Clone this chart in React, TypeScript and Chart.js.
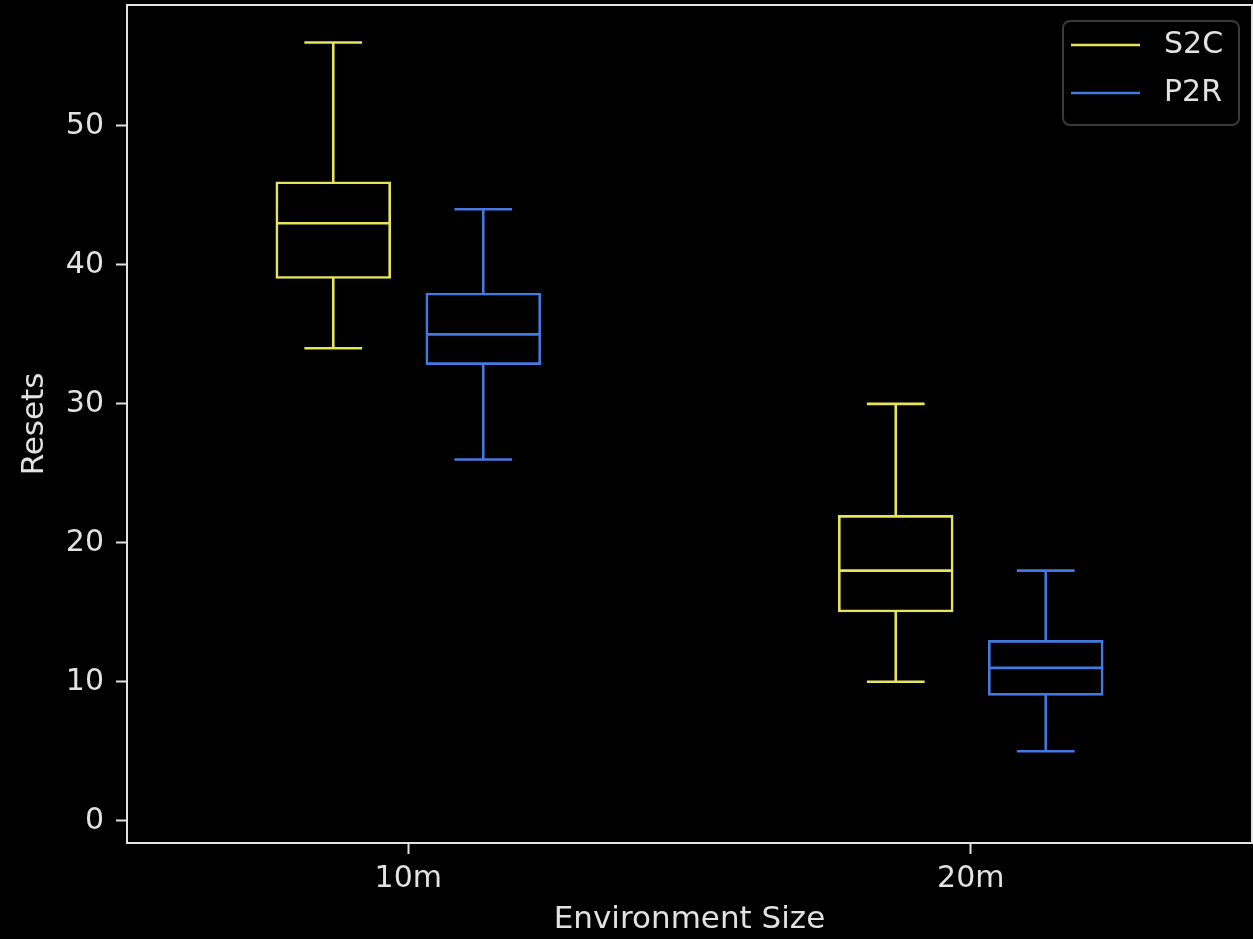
import React, { useEffect, useRef } from 'react';
import { Chart, registerables } from 'chart.js';

Chart.register(...registerables);

// ---- data ----
const CATEGORIES = ['10m', '20m'];
const SERIES_LABELS = ['S2C', 'P2R'];

const S2C_MIN = [34, 10];
const S2C_Q1 = [39, 15];
const S2C_MEDIAN = [43, 18];
const S2C_Q3 = [46, 22];
const S2C_MAX = [56, 30];

const P2R_MIN = [26, 5];
const P2R_Q1 = [32.8, 9];
const P2R_MEDIAN = [35, 11];
const P2R_Q3 = [38, 13];
const P2R_MAX = [44, 18];

const Y_TICKS = [0, 10, 20, 30, 40, 50];
const Y_MIN = -1.6;
const Y_MAX = 58.7;
const X_TITLE = 'Environment Size';
const Y_TITLE = 'Resets';

// ---- styles ----
const COLORS = ['#e6e35c', '#4479e1'];
const FG = '#e2e2e2';
const FONT_FAMILY = "'DejaVu Sans', sans-serif";
const FONT_SIZE = 30;
const TITLE_SIZE = 31;
const LINE_W = 2.6;

const SERIES = [
  { label: SERIES_LABELS[0], min: S2C_MIN, q1: S2C_Q1, med: S2C_MEDIAN, q3: S2C_Q3, max: S2C_MAX },
  { label: SERIES_LABELS[1], min: P2R_MIN, q1: P2R_Q1, med: P2R_MEDIAN, q3: P2R_Q3, max: P2R_MAX },
];

const boxPlugin = {
  id: 'boxWhiskers',
  afterDatasetsDraw(chart: any) {
    const ctx = chart.ctx;
    const y = chart.scales.y;
    SERIES.forEach((s, i) => {
      const meta = chart.getDatasetMeta(i);
      meta.data.forEach((bar: any, j: number) => {
        const { x, width } = bar.getProps(['x', 'width'], true);
        const half = width / 2 - LINE_W / 2;
        const cap = width / 4;
        const yMin = y.getPixelForValue(s.min[j]);
        const yMax = y.getPixelForValue(s.max[j]);
        const yQ1 = y.getPixelForValue(s.q1[j]);
        const yQ3 = y.getPixelForValue(s.q3[j]);
        const yMed = y.getPixelForValue(s.med[j]);
        ctx.save();
        ctx.strokeStyle = COLORS[i];
        ctx.lineWidth = LINE_W;
        ctx.lineCap = 'butt';
        ctx.beginPath();
        ctx.moveTo(x - half, yMed);
        ctx.lineTo(x + half, yMed);
        ctx.moveTo(x, yQ3 + LINE_W / 2);
        ctx.lineTo(x, yMax);
        ctx.moveTo(x, yQ1 - LINE_W / 2);
        ctx.lineTo(x, yMin);
        ctx.moveTo(x - cap, yMax);
        ctx.lineTo(x + cap, yMax);
        ctx.moveTo(x - cap, yMin);
        ctx.lineTo(x + cap, yMin);
        ctx.stroke();
        ctx.restore();
      });
    });
  },
};

const framePlugin = {
  id: 'frameAndLegend',
  afterDraw(chart: any) {
    const ctx = chart.ctx;
    const { left, top, right, bottom } = chart.chartArea;
    ctx.save();
    ctx.strokeStyle = FG;
    ctx.lineWidth = 2;
    ctx.beginPath();
    ctx.moveTo(left, top);
    ctx.lineTo(right, top);
    ctx.lineTo(right, bottom);
    ctx.stroke();

    // legend (matplotlib style, upper right)
    const bw = 176;
    const bh = 104;
    const bx = right - 13 - bw;
    const by = top + 16;
    ctx.beginPath();
    ctx.roundRect(bx, by, bw, bh, 7);
    ctx.fillStyle = 'rgba(0,0,0,0.8)';
    ctx.fill();
    ctx.strokeStyle = '#3a3a3a';
    ctx.lineWidth = 2;
    ctx.stroke();

    ctx.font = `${FONT_SIZE}px ${FONT_FAMILY}`;
    ctx.textBaseline = 'middle';
    ctx.textAlign = 'left';
    chart.data.datasets.forEach((ds: any, i: number) => {
      const ry = by + 24 + i * 48;
      ctx.strokeStyle = ds.borderColor;
      ctx.lineWidth = LINE_W;
      ctx.beginPath();
      ctx.moveTo(bx + 8, ry);
      ctx.lineTo(bx + 77, ry);
      ctx.stroke();
      ctx.fillStyle = FG;
      ctx.fillText(ds.label, bx + 101, ry);
    });
    ctx.restore();
  },
};

export default function App() {
  const ref = useRef<HTMLCanvasElement>(null);

  useEffect(() => {
    if (!ref.current) return;
    const font = { family: FONT_FAMILY, size: FONT_SIZE };
    const titleFont = { family: FONT_FAMILY, size: TITLE_SIZE };
    const chart = new Chart(ref.current, {
      type: 'bar',
      data: {
        labels: CATEGORIES,
        datasets: SERIES.map((s, i) => ({
          label: s.label,
          data: s.q1.map((v, j) => [v, s.q3[j]]),
          backgroundColor: 'rgba(0,0,0,0)',
          borderColor: COLORS[i],
          borderWidth: LINE_W,
          borderSkipped: false,
          categoryPercentage: 0.5333,
          barPercentage: 0.77,
        })),
      } as any,
      options: {
        responsive: false,
        animation: false,
        events: [],
        layout: { padding: { top: 5, right: 1, bottom: 0, left: 0 } },
        plugins: {
          legend: { display: false },
          tooltip: { enabled: false },
        },
        scales: {
          x: {
            type: 'category',
            offset: true,
            grid: {
              display: true,
              offset: false,
              drawOnChartArea: false,
              drawTicks: true,
              tickLength: 11,
              tickWidth: 2,
              tickColor: FG,
            },
            border: { display: true, color: FG, width: 2 },
            ticks: { color: FG, font, padding: 7, maxRotation: 0 },
            title: {
              display: true,
              text: X_TITLE,
              color: FG,
              font: titleFont,
              padding: { top: 0, bottom: 0 },
            },
            afterFit: (s: any) => {
              s.height = 96;
              s.paddingLeft = 0;
              s.paddingRight = 0;
            },
          },
          y: {
            type: 'linear',
            min: Y_MIN,
            max: Y_MAX,
            afterBuildTicks: (s: any) => {
              s.ticks = Y_TICKS.map((v) => ({ value: v }));
            },
            grid: {
              display: true,
              drawOnChartArea: false,
              drawTicks: true,
              tickLength: 11,
              tickWidth: 2,
              tickColor: FG,
            },
            border: { display: true, color: FG, width: 2 },
            ticks: { color: FG, font, padding: 12 },
            title: {
              display: true,
              text: Y_TITLE,
              color: FG,
              font: titleFont,
              padding: { top: 16, bottom: 0 },
            },
            afterFit: (s: any) => {
              s.width = 127;
              s.paddingTop = 0;
              s.paddingBottom = 0;
            },
          },
        },
      } as any,
      plugins: [boxPlugin, framePlugin],
    });
    return () => chart.destroy();
  }, []);

  return (
    <div
      style={{
        position: 'fixed',
        left: 0,
        top: 0,
        width: 1253,
        height: 939,
        background: '#000',
      }}
    >
      <canvas ref={ref} width={1253} height={939} style={{ display: 'block' }} />
    </div>
  );
}
